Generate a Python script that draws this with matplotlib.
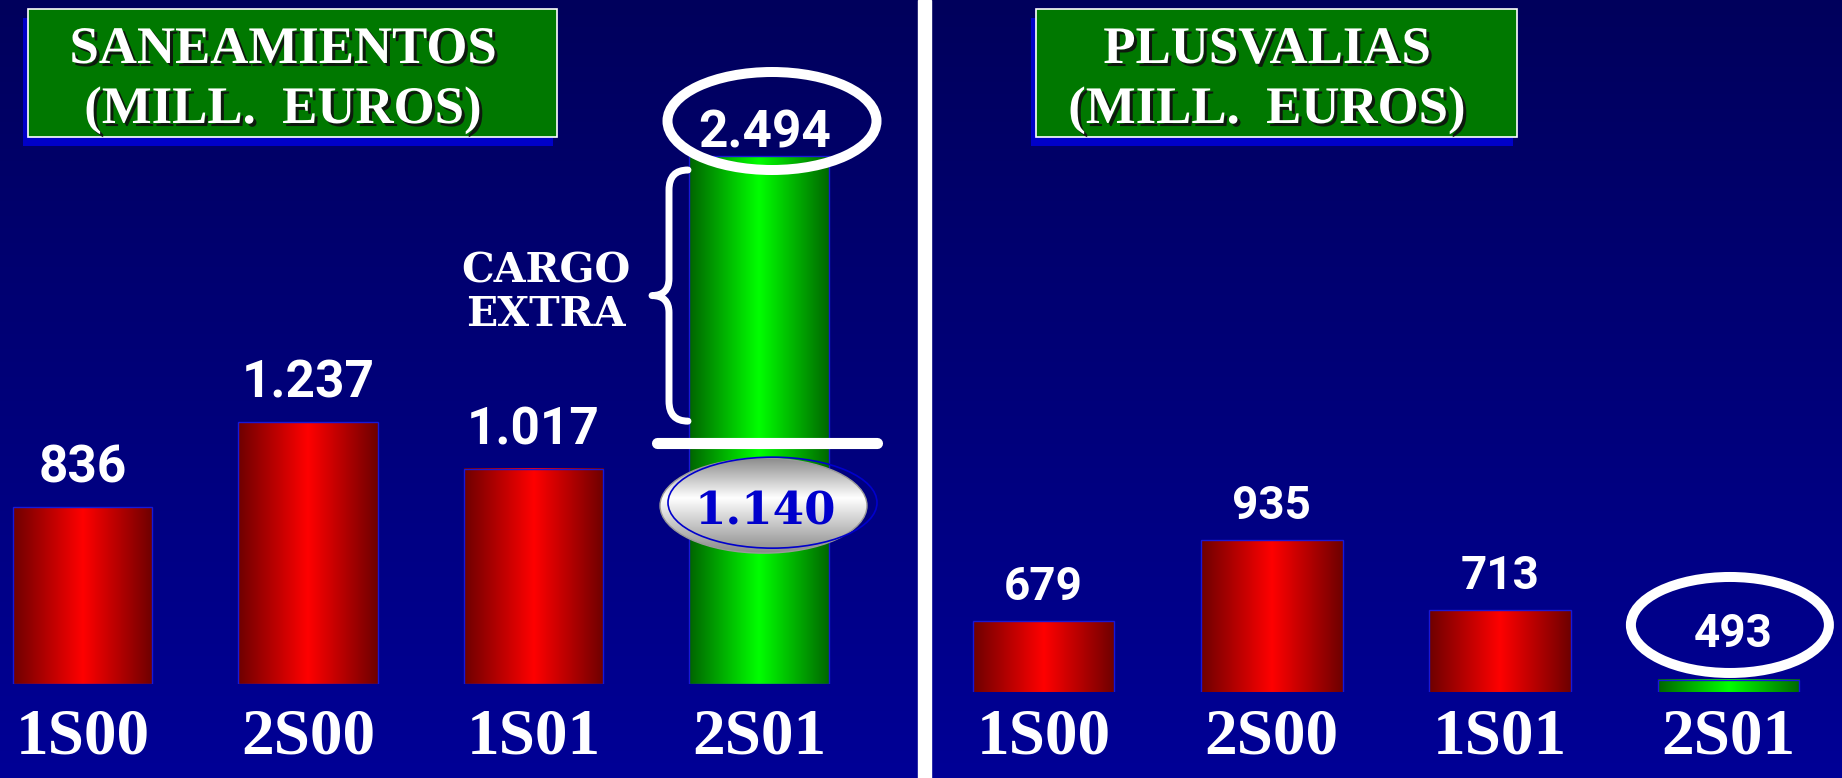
import matplotlib

matplotlib.use("Agg")
import matplotlib.pyplot as plt
import matplotlib.patheffects as pe
import numpy as np
from matplotlib import font_manager
from matplotlib.colors import LinearSegmentedColormap
from matplotlib.lines import Line2D
from matplotlib.patches import Ellipse, PathPatch, Rectangle
from matplotlib.path import Path
from matplotlib.transforms import ScaledTranslation, blended_transform_factory

# data
PERIODS = ["1S00", "2S00", "1S01", "2S01"]
SANEAMIENTOS = [836, 1237, 1017, 2494]
SANEAMIENTOS_LABELS = ["836", "1.237", "1.017", "2.494"]
SANEAMIENTO_BASE_2S01 = 1140
SANEAMIENTO_BASE_LABEL = "1.140"
PLUSVALIAS = [679, 935, 713, 493]
PLUSVALIAS_LABELS = ["679", "935", "713", "493"]
PLUSVALIAS_AXIS_FLOOR = 455

W, H = 1842, 778
SERIF = ["Liberation Serif", "DejaVu Serif"]
WIDE_SERIF = ["DejaVu Serif"]


def bold_sans():
    # first family that really has a bold face installed
    for fam in ("Noto Sans", "Roboto", "Open Sans", "Lato", "Inter"):
        try:
            path = font_manager.findfont(font_manager.FontProperties(family=fam, weight="bold"),
                                         fallback_to_default=False)
        except ValueError:
            continue
        prop = font_manager.FontProperties(fname=path)
        if prop.get_name() == fam and "bold" in path.lower():
            return path
    return None


BOLD_SANS_FILE = bold_sans()


def sans_kw(size):
    if BOLD_SANS_FILE:
        return {"fontproperties": font_manager.FontProperties(fname=BOLD_SANS_FILE, size=size)}
    return {"fontsize": size * 0.85, "fontweight": "bold", "family": "DejaVu Sans"}


RED = LinearSegmentedColormap.from_list("red", ["#6e0000", "#ff0000", "#6e0000"])
GREEN = LinearSegmentedColormap.from_list("green", ["#006400", "#00ff00", "#006800"])
GREY = LinearSegmentedColormap.from_list("grey", [(0, "#8c8c8c"), (0.42, "#ffffff"), (1, "#8a8a8a")])
BG = LinearSegmentedColormap.from_list("bg", ["#00005c", "#000096"])
HGRAD = np.linspace(0, 1, 256).reshape(1, -1)
VGRAD = np.linspace(0, 1, 256).reshape(-1, 1)

fig = plt.figure(figsize=(W / 100, H / 100), dpi=100)

bg = fig.add_axes([0, 0, 1, 1], zorder=-10)
bg.imshow(VGRAD, cmap=BG, aspect="auto", extent=(0, 1, 0, 1))
bg.axis("off")

# separator
fig.add_artist(Rectangle((918 / W, 0), 13 / W, 1, transform=fig.transFigure, color="white", zorder=1))


def px_rect(x0, y0, x1, y1, **kw):
    return Rectangle((x0 / W, 1 - y1 / H), (x1 - x0) / W, (y1 - y0) / H, transform=fig.transFigure, **kw)


def title_box(x0, x1, lines, cx):
    fig.add_artist(px_rect(x0 - 4.5, 18, x1 - 4.5, 146, facecolor="#0000c8", edgecolor="none", zorder=2))
    fig.add_artist(px_rect(x0, 9, x1, 137, facecolor="#007800", edgecolor="white", linewidth=1.2, zorder=3))
    for text, base in zip(lines, (63, 123)):
        fig.text(cx / W, 1 - base / H, text, ha="center", va="baseline", color="white",
                 fontsize=38, fontweight="bold", family=SERIF, zorder=4,
                 path_effects=[pe.withSimplePatchShadow(offset=(2.2, -2.2), shadow_rgbFace="#101010", alpha=0.9)])


title_box(27.5, 557, ["SANEAMIENTOS", "(MILL.  EUROS)"], 283)
title_box(1035.6, 1517, ["PLUSVALIAS", "(MILL.  EUROS)"], 1267)


def anchor(ax, x, y):
    return fig.dpi_scale_trans + ScaledTranslation(x, y, ax.transData)


def gradient_bars(ax, values, cmaps):
    bars = ax.bar(range(len(values)), values, width=0.62, color="none", edgecolor="#1818d8",
                  linewidth=1, zorder=3)
    for rect, cmap in zip(bars, cmaps):
        x0, y0 = rect.get_x(), rect.get_y()
        ax.imshow(HGRAD, cmap=cmap, aspect="auto", interpolation="bicubic", zorder=2,
                  extent=(x0, x0 + rect.get_width(), y0, y0 + rect.get_height()))
    return bars


def category_labels(ax, drop_pt):
    for i, name in enumerate(PERIODS):
        ax.annotate(name, (i, 0), xycoords=("data", "axes fraction"), xytext=(0, -drop_pt),
                    textcoords="offset points", ha="center", va="baseline", color="white",
                    fontsize=47, fontweight="bold", family=SERIF, annotation_clip=False)


# left panel: saneamientos
left_px_per_unit = (684 - 156) / SANEAMIENTOS[-1]
axl = fig.add_axes([0, (H - 684) / H, 918 / W, 684 / H])
axl.axis("off")
gradient_bars(axl, SANEAMIENTOS, [RED, RED, RED, GREEN])
for i, (v, lab) in enumerate(zip(SANEAMIENTOS, SANEAMIENTOS_LABELS)):
    last = i == len(SANEAMIENTOS) - 1
    axl.annotate(lab, (i, v), xytext=(4.3 if last else 0, 5.8 if last else 17.5),
                 textcoords="offset points", ha="center", va="baseline", color="white",
                 zorder=7, **sans_kw(37))
category_labels(axl, 69 * 0.72)

i2 = len(SANEAMIENTOS) - 1
top_ring = Ellipse((0.13, 0.35), 2.09, 0.98, transform=anchor(axl, i2, SANEAMIENTOS[-1]),
                   facecolor="none", edgecolor="white", linewidth=7.2, zorder=6, clip_on=False)
axl.add_patch(top_ring)

base_tr = anchor(axl, i2, SANEAMIENTO_BASE_2S01)
axl.add_line(Line2D([-1.02, 1.18], [0, 0], transform=base_tr, color="white", linewidth=8,
                    solid_capstyle="round", zorder=6, clip_on=False))

oval = Ellipse((0.045, -0.63), 2.07, 0.95, transform=base_tr, facecolor="none",
               edgecolor="#9a9a9a", linewidth=1, zorder=6, clip_on=False)
axl.add_patch(oval)
shade = axl.imshow(VGRAD, cmap=GREY, aspect="auto", interpolation="bicubic", zorder=5,
                   extent=(0.045 - 1.035, 0.045 + 1.035, -0.63 - 0.475, -0.63 + 0.475))
shade.set_transform(base_tr)
shade.set_clip_path(oval)
axl.add_patch(Ellipse((0.135, -0.60), 2.09, 0.91, transform=base_tr, facecolor="none",
                      edgecolor="#0000cc", linewidth=1.2, zorder=6, clip_on=False))
axl.text(0.06, -0.823, SANEAMIENTO_BASE_LABEL, transform=base_tr, ha="center", va="baseline",
         color="#0000cc", fontsize=32.5, fontweight="bold", family=WIDE_SERIF, zorder=7)

# brace for the extra charge
brace_tr = blended_transform_factory(anchor(axl, i2, 0), axl.transData)
yt = SANEAMIENTOS[-1] - 14 / left_px_per_unit
yb = SANEAMIENTO_BASE_2S01 + 21.5 / left_px_per_unit
ym = (yt + yb) / 2
r_end, r_tip = 20 / left_px_per_unit, 17 / left_px_per_unit
xr, xv, xt = -0.71, -0.90, -1.07
verts = [(xr, yt), (xv, yt), (xv, yt - r_end), (xv, ym + r_tip), (xv, ym), (xt, ym),
         (xv, ym), (xv, ym - r_tip), (xv, yb + r_end), (xv, yb), (xr, yb)]
codes = [Path.MOVETO, Path.CURVE3, Path.CURVE3, Path.LINETO, Path.CURVE3, Path.CURVE3,
         Path.CURVE3, Path.CURVE3, Path.LINETO, Path.CURVE3, Path.CURVE3]
axl.add_patch(PathPatch(Path(verts, codes), transform=brace_tr, facecolor="none", edgecolor="white",
                        linewidth=5, capstyle="round", joinstyle="round", zorder=6, clip_on=False))
for word, dy in (("CARGO", 12.6), ("EXTRA", -30.4)):
    axl.text(-2.13, ym + dy / left_px_per_unit, word, transform=brace_tr, ha="center", va="baseline",
             color="white", fontsize=29.5, fontweight="bold", family=WIDE_SERIF, zorder=7)

axl.set_xlim(-82.5 / 225.5, (918 - 82.5) / 225.5)
axl.set_ylim(0, 684 / left_px_per_unit)

# right panel: plusvalias
right_px_per_unit = 0.3164
axr = fig.add_axes([931 / W, (H - 692) / H, 911 / W, 692 / H])
axr.axis("off")
gradient_bars(axr, PLUSVALIAS, [RED, RED, RED, GREEN])
for i, (v, lab) in enumerate(zip(PLUSVALIAS, PLUSVALIAS_LABELS)):
    last = i == len(PLUSVALIAS) - 1
    axr.annotate(lab, (i, v), xytext=(3.2 if last else 0, 24.0 if last else 15.5),
                 textcoords="offset points", ha="center", va="baseline", color="white",
                 zorder=7, **sans_kw(33))
category_labels(axr, 61 * 0.72)
axr.add_patch(Ellipse((0.015, 0.55), 1.98, 0.96, transform=anchor(axr, 3, PLUSVALIAS[-1]),
                      facecolor="none", edgecolor="white", linewidth=7.2, zorder=6, clip_on=False))
axr.set_xlim((931 - 1043.5) / 228.3, (W - 1043.5) / 228.3)
axr.set_ylim(PLUSVALIAS_AXIS_FLOOR, PLUSVALIAS_AXIS_FLOOR + 692 / right_px_per_unit)

fig.savefig("out.png", dpi=100)
